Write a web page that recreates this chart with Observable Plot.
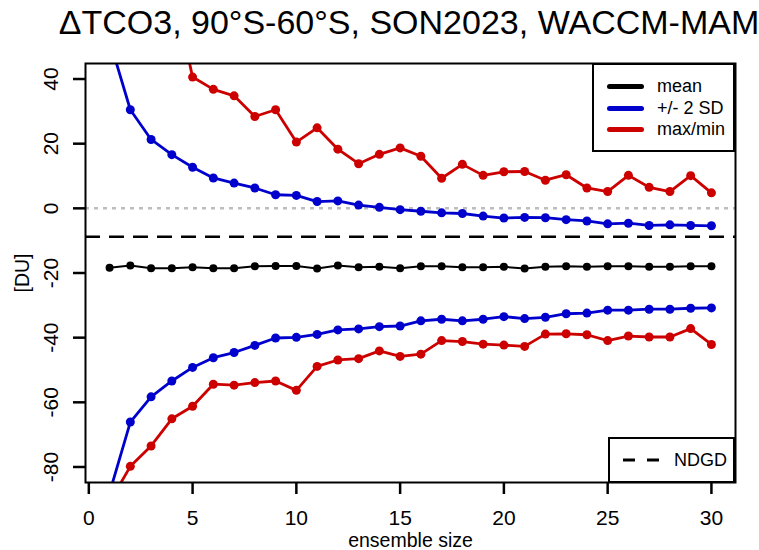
<!DOCTYPE html>
<html>
<head>
<meta charset="utf-8">
<script src="https://cdn.jsdelivr.net/npm/d3@7"></script>
<script src="https://cdn.jsdelivr.net/npm/@observablehq/plot@0.6"></script>
<style>
  body { margin: 0; background: #fff; }
  #wrap { position: relative; width: 759px; height: 550px; font-family: "Liberation Sans", Arial, sans-serif; color: #000; }
  #wrap svg { position: absolute; left: 0; top: 0; }
  .title { position: absolute; left: 0; width: 818px; top: 3px; text-align: center; font-size: 34px; white-space: nowrap; }
  .legend { position: absolute; border: 2px solid #000; background: #fff; box-sizing: border-box; }
  .lrow { position: absolute; left: 0; font-size: 18px; line-height: 20px; white-space: nowrap; }
  .lline { position: absolute; height: 5px; border-radius: 2.5px; }
</style>
</head>
<body>
<div id="wrap"></div>
<script>
// ---- data ----
const ensembleSize = [1,2,3,4,5,6,7,8,9,10,11,12,13,14,15,16,17,18,19,20,21,22,23,24,25,26,27,28,29,30];
const meanVals = [-18.4,-17.7,-18.5,-18.5,-18.2,-18.5,-18.5,-17.9,-17.8,-17.8,-18.6,-17.7,-18.2,-18.1,-18.5,-17.9,-17.9,-18.2,-18.2,-18.1,-18.6,-18.1,-17.9,-18.1,-17.9,-17.9,-18.1,-18.1,-17.9,-17.9];
const sdUpper = [52,30.5,21.3,16.6,12.7,9.4,7.8,6.3,4.2,4.0,2.1,2.3,1.0,0.3,-0.4,-0.9,-1.4,-1.6,-2.4,-3.0,-2.8,-2.9,-3.5,-3.9,-4.8,-4.6,-5.3,-5.1,-5.3,-5.4];
const sdLower = [-88,-66.1,-58.3,-53.4,-49.2,-46.2,-44.6,-42.4,-40.1,-39.9,-39.0,-37.6,-37.3,-36.6,-36.4,-34.8,-34.3,-34.8,-34.3,-33.5,-34.1,-33.7,-32.6,-32.4,-31.5,-31.5,-31.2,-31.2,-30.9,-30.8];
const maxVals = [60,88,78,70,40.6,36.8,34.8,28.4,30.5,20.5,24.9,18.3,13.8,16.7,18.7,16.1,9.3,13.6,10.2,11.3,11.4,8.7,10.4,6.3,5.2,10.2,6.5,5.2,10.1,4.8];
const minVals = [-91,-79.8,-73.5,-65.1,-61.2,-54.4,-54.7,-53.9,-53.4,-56.3,-48.9,-46.9,-46.5,-44.1,-45.8,-45.1,-40.9,-41.2,-42.0,-42.3,-42.7,-38.9,-38.8,-39.1,-40.9,-39.5,-39.8,-39.8,-37.2,-42.1];
const ndgd = -8.8;
const xTicks = [0,5,10,15,20,25,30];
const yTicks = [-80,-60,-40,-20,0,20,40];
const seriesNames = ["mean","+/- 2 SD","max/min"];
const seriesColors = ["#000000","#0000cd","#cd0000"];
const titleText = "ΔTCO3, 90°S-60°S, SON2023, WACCM-MAM";

// ---- build table ----
const seriesDefs = [
  {key:"sdU", group:"+/- 2 SD", vals:sdUpper},
  {key:"sdL", group:"+/- 2 SD", vals:sdLower},
  {key:"max", group:"max/min", vals:maxVals},
  {key:"min", group:"max/min", vals:minVals}
];
const rows = [];
for (const s of seriesDefs) ensembleSize.forEach((n,i) => rows.push({n, v:s.vals[i], key:s.key, group:s.group}));
const meanRows = ensembleSize.map((n,i) => ({n, v:meanVals[i], key:"mean", group:"mean"}));

const font = "Liberation Sans, Arial, sans-serif";
const plot = Plot.plot({
  width: 759, height: 550,
  marginTop: 63, marginLeft: 85, marginRight: 24, marginBottom: 68,
  style: {fontFamily: font, background: "transparent", color: "#000"},
  x: {domain: [-0.16, 31.16]},
  y: {domain: [-84.8, 44.8]},
  color: {domain: seriesNames, range: seriesColors},
  marks: [
    Plot.ruleY([0], {stroke: "#bdbdbd", strokeWidth: 2.5, strokeDasharray: "4,5"}),
    Plot.ruleY([ndgd], {stroke: "#000", strokeWidth: 2.5, strokeDasharray: "15,9"}),
    Plot.line(meanRows, {x: "n", y: "v", z: "key", stroke: "group", strokeWidth: 2, clip: true}),
    Plot.dot(meanRows, {x: "n", y: "v", fill: "group", r: 4, clip: true}),
    Plot.line(rows, {x: "n", y: "v", z: "key", stroke: "group", strokeWidth: 2.8, clip: true}),
    Plot.dot(rows, {x: "n", y: "v", fill: "group", r: 4.5, clip: true}),
    Plot.frame({stroke: "#000", strokeWidth: 2}),
    Plot.axisX({ticks: xTicks, tickSize: 12, tickPadding: 16, fontSize: 21, tickFormat: d => String(d),
      strokeWidth: 2.5, label: "ensemble size", labelAnchor: "center", labelArrow: "none", labelOffset: 64}),
    Plot.axisY({ticks: yTicks, tickSize: 12, tickPadding: 16, tickRotate: -90, fontSize: 21,
      tickFormat: d => String(d), strokeWidth: 2.5, label: "[DU]", labelAnchor: "center", labelArrow: "none", labelOffset: 70})
  ]
});
// label font sizes
plot.querySelectorAll("g[aria-label='x-axis label'] text, g[aria-label='y-axis label'] text").forEach(t => t.setAttribute("font-size", "19.5"));

const wrap = document.getElementById("wrap");
wrap.appendChild(plot);

// title
const t = document.createElement("div");
t.className = "title"; t.textContent = titleText;
wrap.appendChild(t);

// legend (top right)
const lg = document.createElement("div");
lg.className = "legend";
Object.assign(lg.style, {left: "592px", top: "63px", width: "143px", height: "89px"});
seriesNames.forEach((name, i) => {
  const ln = document.createElement("div");
  ln.className = "lline";
  Object.assign(ln.style, {left: "13px", width: "37px", top: (19 + i * 21.5) + "px", background: seriesColors[i]});
  lg.appendChild(ln);
  const tx = document.createElement("div");
  tx.className = "lrow"; tx.textContent = name;
  Object.assign(tx.style, {left: "63px", top: (11 + i * 21.5) + "px"});
  lg.appendChild(tx);
});
wrap.appendChild(lg);

// legend (bottom right)
const lg2 = document.createElement("div");
lg2.className = "legend";
Object.assign(lg2.style, {left: "608px", top: "437px", width: "127px", height: "46px"});
const dash = document.createElementNS("http://www.w3.org/2000/svg", "svg");
dash.setAttribute("width", "40"); dash.setAttribute("height", "6");
Object.assign(dash.style, {position: "absolute", left: "13px", top: "18px"});
dash.innerHTML = '<line x1="0" x2="38" y1="3" y2="3" stroke="#000" stroke-width="3" stroke-dasharray="12,12"/>';
lg2.appendChild(dash);
const tx2 = document.createElement("div");
tx2.className = "lrow"; tx2.textContent = "NDGD";
Object.assign(tx2.style, {left: "64px", top: "11px"});
lg2.appendChild(tx2);
wrap.appendChild(lg2);
</script>
</body>
</html>
